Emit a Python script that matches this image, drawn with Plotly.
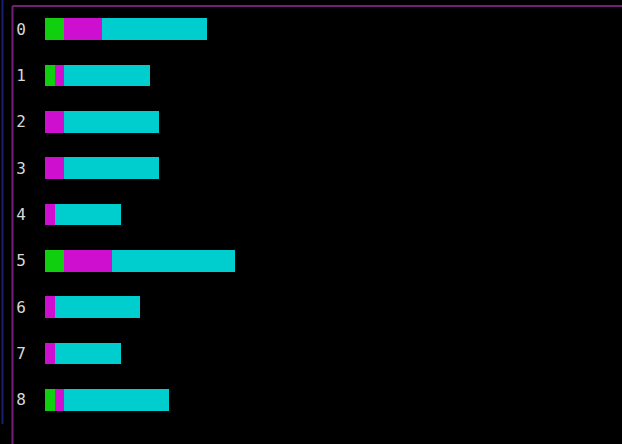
import plotly.graph_objects as go

categories = ["0", "1", "2", "3", "4", "5", "6", "7", "8"]
green_vals = [2, 1, 0, 0, 0, 2, 0, 0, 1]
magenta_vals = [4, 1, 2, 2, 1, 5, 1, 1, 1]
cyan_vals = [11, 9, 10, 10, 7, 13, 9, 7, 11]

series = [
    ("green", green_vals, "#0fcf0f"),
    ("magenta", magenta_vals, "#cf0fcf"),
    ("cyan", cyan_vals, "#00cdcd"),
]

fig = go.Figure()
for name, vals, color in series:
    fig.add_trace(go.Bar(
        y=categories, x=vals, orientation="h", name=name,
        marker=dict(color=color, line=dict(width=0)),
        width=0.47,
    ))

W, H = 622, 444
ml, mr, mt, mb = 45, 0, 6, 21
pw = W - ml - mr
ph = H - mt - mb

def px_x(x):
    return (x - ml) / pw

def px_y(y):
    return 1 - (y - mt) / ph

fig.update_layout(
    barmode="stack",
    width=W, height=H,
    margin=dict(l=ml, r=mr, t=mt, b=mb, pad=0),
    paper_bgcolor="#000000",
    plot_bgcolor="#000000",
    showlegend=False,
    bargap=0,
    xaxis=dict(range=[0, pw / 9.5], visible=False, showgrid=False, zeroline=False),
    yaxis=dict(
        type="category", categoryorder="array", categoryarray=categories,
        autorange="reversed", showgrid=False, zeroline=False, showline=False,
        ticks="", ticklabelstandoff=18,
        tickfont=dict(family="DejaVu Sans Mono", size=16, color="#d8d8d8"),
    ),
    shapes=[
        dict(type="line", xref="paper", yref="paper",
             x0=px_x(2.5), x1=px_x(2.5), y0=px_y(0), y1=px_y(424),
             line=dict(color="#1c1c70", width=2)),
        dict(type="line", xref="paper", yref="paper",
             x0=px_x(12.5), x1=px_x(12.5), y0=px_y(6), y1=px_y(444),
             line=dict(color="#752078", width=2)),
        dict(type="line", xref="paper", yref="paper",
             x0=px_x(12.5), x1=px_x(622), y0=px_y(6), y1=px_y(6),
             line=dict(color="#752078", width=2)),
    ],
)

fig.write_html(
    "out.html",
    config={"displayModeBar": False},
    post_script="document.body.style.margin='0';document.body.style.background='#000';",
)
